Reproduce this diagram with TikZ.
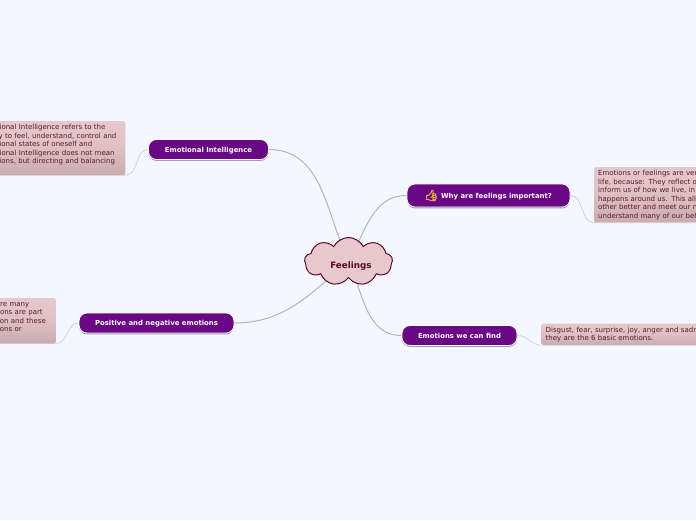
\documentclass[tikz,border=0pt]{standalone}
\usepackage{fontspec}
\usepackage{xcolor}
\setmainfont{DejaVu Sans}
\newfontfamily\emojifont[FakeBold=3]{Noto Emoji}
\usetikzlibrary{positioning}
\usetikzlibrary{backgrounds}
\usetikzlibrary{shadows}
\usetikzlibrary{shapes.symbols}
\definecolor{pagebg}{HTML}{F4F7FF}
\definecolor{topicfill}{HTML}{6A0785}
\definecolor{cloudfill}{HTML}{E8C8CC}
\definecolor{cloudline}{HTML}{5A0A24}
\definecolor{notetext}{HTML}{5A1A2A}
\definecolor{linkgray}{HTML}{B2B5BD}
\definecolor{notegray}{HTML}{CFD2DA}
\definecolor{thumb}{HTML}{F0B040}
\definecolor{notebot}{HTML}{E6D2D8}
\definecolor{notemid}{HTML}{C4A6AB}
\definecolor{notetop2}{HTML}{E0C2C7}
\definecolor{notetop}{HTML}{EBCFD3}
\pgfdeclareverticalshading{noteshade}{100bp}{
  color(0bp)=(notebot); color(8bp)=(notebot); color(18bp)=(notemid);
  color(55bp)=(notetop2); color(100bp)=(notetop)}
\tikzset{
  topic/.style={rounded corners=8pt, fill=topicfill, draw=white, line width=0.8pt, text=white,
    font=\fontsize{6.9}{8.5}\selectfont\bfseries, minimum height=20pt, inner xsep=4pt, inner ysep=0pt,
    text height=5.3pt, text depth=0pt,
    drop shadow={shadow xshift=0pt, shadow yshift=-1.4pt, fill=black, opacity=0.35, rounded corners=8pt}},
  note/.style={shading=noteshade, rounded corners=1.5pt, text=notetext, align=left,
    font=\fontsize{7}{8.5}\selectfont, inner xsep=4pt, inner ysep=3pt},
  link/.style={draw=linkgray, line width=1pt},
  notelink/.style={draw=notegray, line width=0.8pt}
}
\begin{document}
\begin{tikzpicture}[x=1pt,y=-1pt]
\useasboundingbox (0,0) rectangle (696,520);
\begin{scope}[on background layer]
\fill [pagebg] (0,0) rectangle (696,520);
\end{scope}

\node [cloud, cloud puffs=9, cloud puff arc=125, aspect=1.9, draw=cloudline, fill=cloudfill, line width=1pt,
  minimum width=88pt, minimum height=48pt, inner sep=0pt] (feelings) at (348.5,261.5) {};
\node [text=cloudline, font=\fontsize{8.8}{10}\selectfont\bfseries] (feelingstext) at (351,266) {Feelings};

\node [topic, minimum width=120pt] (intelligence) at (208.5,149.5) {Emotional Intelligence};
\node [topic, minimum width=163pt, minimum height=23pt] (why) at (488.5,195.5) {\hspace*{16pt}Why are feelings important?};
\node [text=thumb, font=\emojifont\fontsize{11}{12}\selectfont, inner sep=0pt] (thumbicon) at (431.5,195.5) {👍};
\node [topic, minimum width=155pt] (positive) at (156.5,323) {Positive and negative emotions};
\node [topic, minimum width=115pt] (find) at (459.5,335.5) {Emotions we can find};

\node [note, anchor=north east, text width=140pt] (intelligencenote) at (125.5,121)
  {Emotional Intelligence refers to the\\ability to feel, understand, control and\\emotional states of oneself and\\Emotional Intelligence does not mean\\emotions, but directing and balancing\\~};
\node [note, anchor=north west, text width=160pt] (whynote) at (594,167)
  {Emotions or feelings are very\\life, because: They reflect our\\inform us of how we live, in\\happens around us. This allows\\other better and meet our needs\\understand many of our behaviours};
\node [note, anchor=north east, text width=72pt] (positivenote) at (56,298)
  {We\hspace{3pt} are many\\Emotions are part\\emotion and these\\emotions or\\~};
\node [note, anchor=north west, text width=200pt] (findnote) at (541.5,323.5)
  {Disgust, fear, surprise, joy, anger and sadness,\\they are the 6 basic emotions.};

\begin{scope}[on background layer]
\draw [link] (intelligence.east) to[out=0,in=115] (feelings.center);
\draw [link] (why.west) to[out=180,in=60] (feelings.center);
\draw [link] (find.west) to[out=180,in=-65] (feelings.center);
\draw [link] (positive.east) to[out=0,in=-140] (feelings.center);
\draw [notelink] (intelligence.west) to[out=180,in=0] (intelligencenote.south east) -- (intelligencenote.south west);
\draw [notelink] (why.east) to[out=0,in=180] (whynote.south west) -- (whynote.south east);
\draw [notelink] (positive.west) to[out=180,in=0] (positivenote.south east) -- (positivenote.south west);
\draw [notelink] (find.east) to[out=0,in=180] (findnote.south west) -- (findnote.south east);
\end{scope}
\end{tikzpicture}
\end{document}
